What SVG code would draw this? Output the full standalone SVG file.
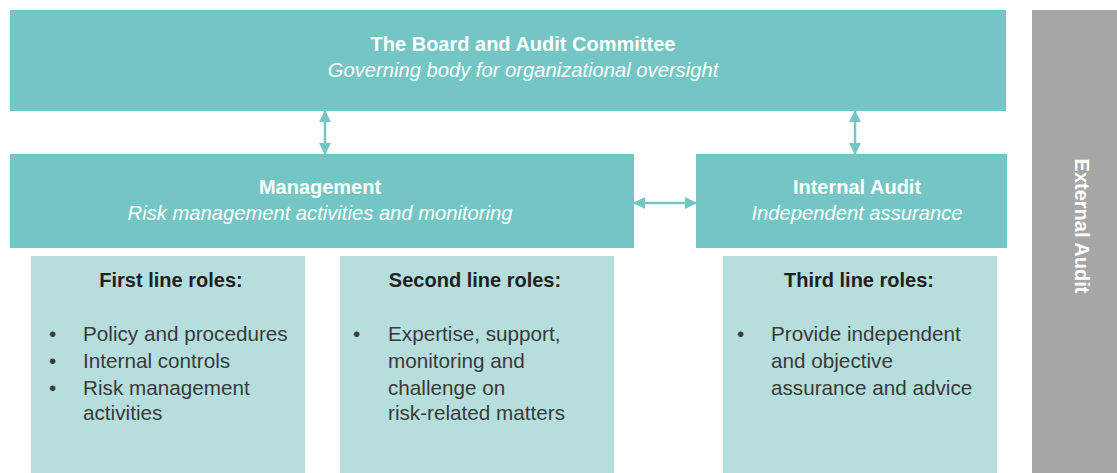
<svg xmlns="http://www.w3.org/2000/svg" width="1117" height="473" viewBox="0 0 1117 473">
<style>
.dark{fill:#74C6C4}
.light{fill:#B5DEDC}
.t{font-family:"Liberation Sans",Arial,sans-serif;}
.title{font-size:20px;font-weight:bold;fill:#ffffff;text-anchor:middle}
.sub{font-size:20.2px;font-style:italic;fill:#ffffff;text-anchor:middle}
.head{font-size:20px;font-weight:bold;fill:#231F20;text-anchor:middle}
.body{font-size:20.7px;fill:#3a3a3a}
.conn{stroke:#74C6C4;stroke-width:2.5;fill:none}
</style>
<defs>
<marker id="ah" viewBox="0 0 12 12" markerWidth="12" markerHeight="12" refX="11" refY="6" orient="auto-start-reverse" markerUnits="userSpaceOnUse">
<path d="M0,0 L12,6 L0,12 z" fill="#74C6C4"/>
</marker>
</defs>
<rect x="0" y="0" width="1117" height="473" fill="#ffffff"/>
<g id="board">
<rect class="dark" x="10" y="10" width="996" height="101"/>
<text class="t title" x="523" y="51">The Board and Audit Committee</text>
<text class="t sub" x="523" y="77">Governing body for organizational oversight</text>
</g>
<g id="management">
<rect class="dark" x="10" y="154" width="624" height="94"/>
<text class="t title" x="320" y="194">Management</text>
<text class="t sub" x="320" y="220">Risk management activities and monitoring</text>
</g>
<g id="internal-audit">
<rect class="dark" x="696" y="154" width="311" height="94"/>
<text class="t title" x="857" y="194">Internal Audit</text>
<text class="t sub" x="857" y="220">Independent assurance</text>
</g>
<g id="external-audit">
<rect x="1032" y="10" width="85" height="463" fill="#A6A6A6"/>
<text class="t title" transform="translate(1075,226) rotate(90)" x="0" y="0">External Audit</text>
</g>
<g id="first-line">
<rect class="light" x="31" y="256" width="274" height="217"/>
<text class="t head" x="171" y="287">First line roles:</text>
<text class="t body" x="49" y="341">•</text>
<text class="t body" x="83" y="341">Policy and procedures</text>
<text class="t body" x="49" y="368">•</text>
<text class="t body" x="83" y="368">Internal controls</text>
<text class="t body" x="49" y="395">•</text>
<text class="t body" x="83" y="395">Risk management</text>
<text class="t body" x="83" y="420">activities</text>
</g>
<g id="second-line">
<rect class="light" x="340" y="256" width="274" height="217"/>
<text class="t head" x="475" y="287">Second line roles:</text>
<text class="t body" x="353" y="341">•</text>
<text class="t body" x="388" y="341">Expertise, support,</text>
<text class="t body" x="388" y="368">monitoring and</text>
<text class="t body" x="388" y="395">challenge on</text>
<text class="t body" x="388" y="420">risk-related matters</text>
</g>
<g id="third-line">
<rect class="light" x="723" y="256" width="274" height="217"/>
<text class="t head" x="859" y="287">Third line roles:</text>
<text class="t body" x="737" y="341">•</text>
<text class="t body" x="771" y="341">Provide independent</text>
<text class="t body" x="771" y="368">and objective</text>
<text class="t body" x="771" y="395">assurance and advice</text>
</g>
<g id="connectors">
<line class="conn" x1="325" y1="111" x2="325" y2="154" marker-start="url(#ah)" marker-end="url(#ah)"/>
<line class="conn" x1="855" y1="111" x2="855" y2="154" marker-start="url(#ah)" marker-end="url(#ah)"/>
<line class="conn" x1="634" y1="203" x2="696" y2="203" marker-start="url(#ah)" marker-end="url(#ah)"/>
</g>
</svg>
